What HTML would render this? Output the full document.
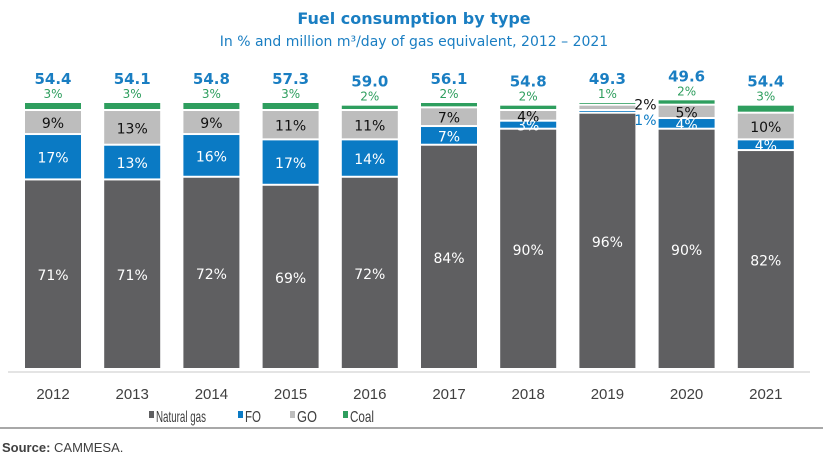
<!DOCTYPE html>
<html><head><meta charset="utf-8"><style>
body{margin:0;background:#fff;width:828px;height:464px;overflow:hidden;font-family:"DejaVu Sans","Liberation Sans",sans-serif}
svg{display:block}
</style></head><body>
<svg width="828" height="464" id="chart">
<text x="414" y="24" text-anchor="middle" font-size="16" font-weight="bold" fill="#1a7ec2">Fuel consumption by type</text>
<text x="414" y="46" text-anchor="middle" font-size="14" fill="#1a7ec2">In % and million m³/day of gas equivalent, 2012 – 2021</text>
<line x1="8" y1="372" x2="810" y2="372" stroke="#c8c8c8" stroke-width="1"/>
<g id="bars"></g>
<g id="legend" font-family="Liberation Sans, sans-serif" font-size="16" fill="#404040"></g>
<line x1="0" y1="428" x2="823" y2="428" stroke="#a8a8a8" stroke-width="2"/>
<text x="2" y="452" font-family="Liberation Sans, sans-serif" font-size="13" fill="#404040"><tspan font-weight="bold">Source:</tspan> CAMMESA.</text>
</svg>
<script>
const years=["2012","2013","2014","2015","2016","2017","2018","2019","2020","2021"];
const totals=["54.4","54.1","54.8","57.3","59.0","56.1","54.8","49.3","49.6","54.4"];
const gas=[71,71,72,69,72,84,90,96,90,82];
const fo=[17,13,16,17,14,7,3,1,4,4];
const go=[9,13,9,11,11,7,4,2,5,10];
const coal=[3,3,3,3,2,2,2,1,2,3];
const seriesNames=["Natural gas","FO","GO","Coal"];
const colors=["#5f5f61","#0a7ac4","#bdbdbd","#2e9e5e"];
const labelColors=["#ffffff","#ffffff","#111111","#2e9e5e"];
const NS="http://www.w3.org/2000/svg";
const base=370, scale=2.67, x0=53, pitch=79.2, bw=56;
const xC=i=>x0+i*pitch;
const yV=v=>base-v*scale;
const g=document.getElementById('bars');
function mk(t,a){const e=document.createElementNS(NS,t);for(const k in a)e.setAttribute(k,a[k]);return e;}
years.forEach((yr,i)=>{
  const vals=[gas[i],fo[i],go[i],coal[i]];
  let cum=0;
  vals.forEach((v,s)=>{
    const y1=yV(cum+v), y0=yV(cum);
    const r=mk('rect',{x:xC(i)-bw/2,y:y1,width:bw,height:Math.max(y0-y1-2,0.8),fill:colors[s]});
    
    
    g.appendChild(r);
    let lx=xC(i), ly=(y0+y1)/2+5, fill=labelColors[s], size=14;
    if(s===3){ly=y1-5;size=12;}
    else if(v<=2 && s>0){lx=xC(i)+bw/2+10;ly=(s===1)?y1+14:y1+4;fill=(s===1)?"#0a7ac4":"#111";}
    const t=mk('text',{x:lx,y:ly,'text-anchor':'middle','font-size':size,fill:fill});
    t.textContent=v+'%';
    
    
    g.appendChild(t);
    cum+=v;
  });
  const tt=mk('text',{x:xC(i),y:yV(cum)-19,'text-anchor':'middle','font-size':15,'font-weight':'bold',fill:'#1a7ec2'});
  tt.textContent=totals[i];
  
  
  g.appendChild(tt);
  const xl=mk('text',{x:xC(i),y:399,'text-anchor':'middle','font-size':15,fill:'#404040','font-family':'Liberation Sans, sans-serif'});
  xl.textContent=yr;
  
  
  g.appendChild(xl);
});
const lg=document.getElementById('legend');
const legSwatchX=[149,238,290,343];
const legTextLen=[50,16,20,24];
seriesNames.forEach((n,s)=>{
  const r=mk('rect',{x:legSwatchX[s],y:411,width:5,height:7,fill:colors[s]});
  
  
  lg.appendChild(r);
  const t=mk('text',{x:legSwatchX[s]+7,y:422,textLength:legTextLen[s],lengthAdjust:'spacingAndGlyphs'});
  t.textContent=n;
  
  
  lg.appendChild(t);
});
</script>
</body></html>
